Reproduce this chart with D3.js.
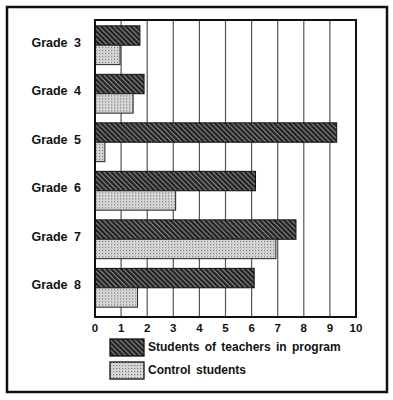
<!DOCTYPE html>
<html>
<head>
<meta charset="utf-8">
<script src="https://cdn.jsdelivr.net/npm/d3@7"></script>
<style>
  body { margin: 0; background: #fff; }
  svg { display: block; font-family: "Liberation Sans", Arial, sans-serif; }
</style>
</head>
<body>
<div id="chart"></div>
<script>
// data
var grades = ["Grade 3", "Grade 4", "Grade 5", "Grade 6", "Grade 7", "Grade 8"];
var programValues = [1.72, 1.88, 9.26, 6.15, 7.7, 6.1];
var controlValues = [0.96, 1.46, 0.38, 3.09, 6.93, 1.63];
var seriesNames = ["Students of teachers in program", "Control students"];
var xTicks = [0, 1, 2, 3, 4, 5, 6, 7, 8, 9, 10];

var width = 393, height = 400;
var svg = d3.select("#chart").append("svg")
    .attr("width", width).attr("height", height);

// hatch patterns
var defs = svg.append("defs");
var pDark = defs.append("pattern").attr("id", "dark")
    .attr("patternUnits", "userSpaceOnUse").attr("width", 3.5).attr("height", 3.5)
    .attr("patternTransform", "rotate(45)");
pDark.append("rect").attr("width", 3.5).attr("height", 3.5).attr("fill", "#222");
pDark.append("rect").attr("width", 3.5).attr("height", 1.1).attr("fill", "#8a8a8a");

var pLight = defs.append("pattern").attr("id", "light")
    .attr("patternUnits", "userSpaceOnUse").attr("width", 3).attr("height", 3);
pLight.append("rect").attr("width", 3).attr("height", 3).attr("fill", "#e2e2e2");
pLight.append("rect").attr("width", 1.2).attr("height", 1.2).attr("fill", "#6f6f6f");
pLight.append("rect").attr("x", 1.5).attr("y", 1.5).attr("width", 1).attr("height", 1).attr("fill", "#a5a5a5");

// outer frame
svg.append("rect")
    .attr("x", 7).attr("y", 7).attr("width", 380).attr("height", 385)
    .attr("fill", "none").attr("stroke", "#111").attr("stroke-width", 2.5);

var mLeft = 95, mRight = 356, mTop = 20, mBottom = 317;

var x = d3.scaleLinear().domain([0, 10]).range([mLeft, mRight]);
var y = d3.scaleBand().domain(grades).range([mTop, mBottom - 4]).paddingInner(0.2).paddingOuter(0.12);
var ySub = d3.scaleBand().domain([0, 1]).range([0, y.bandwidth()]);

// grid lines
svg.append("g").selectAll("line").data(xTicks.slice(1, -1)).join("line")
    .attr("x1", d => x(d)).attr("x2", d => x(d))
    .attr("y1", mTop).attr("y2", mBottom)
    .attr("stroke", "#555").attr("stroke-width", 1.2);

// bars
var groups = svg.append("g").selectAll("g").data(grades).join("g")
    .attr("transform", d => "translate(0," + y(d) + ")");

groups.append("rect")
    .attr("x", x(0)).attr("y", ySub(0))
    .attr("width", (d, i) => x(programValues[i]) - x(0))
    .attr("height", ySub.bandwidth())
    .attr("fill", "url(#dark)").attr("stroke", "#111").attr("stroke-width", 1);

groups.append("rect")
    .attr("x", x(0)).attr("y", ySub(1))
    .attr("width", (d, i) => x(controlValues[i]) - x(0))
    .attr("height", ySub.bandwidth())
    .attr("fill", "url(#light)").attr("stroke", "#222").attr("stroke-width", 1);

// plot frame
svg.append("rect")
    .attr("x", mLeft).attr("y", mTop).attr("width", mRight - mLeft).attr("height", mBottom - mTop)
    .attr("fill", "none").attr("stroke", "#111").attr("stroke-width", 2);

// grade labels
svg.append("g").selectAll("text").data(grades).join("text")
    .attr("x", 81).attr("y", d => y(d) + y.bandwidth() / 2 - 2)
    .attr("text-anchor", "end").attr("dominant-baseline", "middle")
    .attr("font-size", 12.5).attr("font-weight", "bold").attr("fill", "#111")
    .attr("word-spacing", 3)
    .text(d => d);

// x axis tick labels
svg.append("g").selectAll("text").data(xTicks).join("text")
    .attr("x", d => x(d)).attr("y", 332)
    .attr("text-anchor", "middle")
    .attr("font-size", 11.5).attr("font-weight", "bold").attr("fill", "#111")
    .text(d => d);

// legend
var legend = svg.append("g").selectAll("g").data(seriesNames).join("g")
    .attr("transform", (d, i) => "translate(110," + (339 + i * 23) + ")");
legend.append("rect")
    .attr("width", 34).attr("height", 17)
    .attr("fill", (d, i) => i === 0 ? "url(#dark)" : "url(#light)")
    .attr("stroke", "#111").attr("stroke-width", 1.3);
legend.append("text")
    .attr("x", 38).attr("y", 9).attr("dominant-baseline", "middle")
    .attr("font-size", 12).attr("font-weight", "bold").attr("fill", "#111")
    .attr("word-spacing", 2)
    .text(d => d);
</script>
</body>
</html>
